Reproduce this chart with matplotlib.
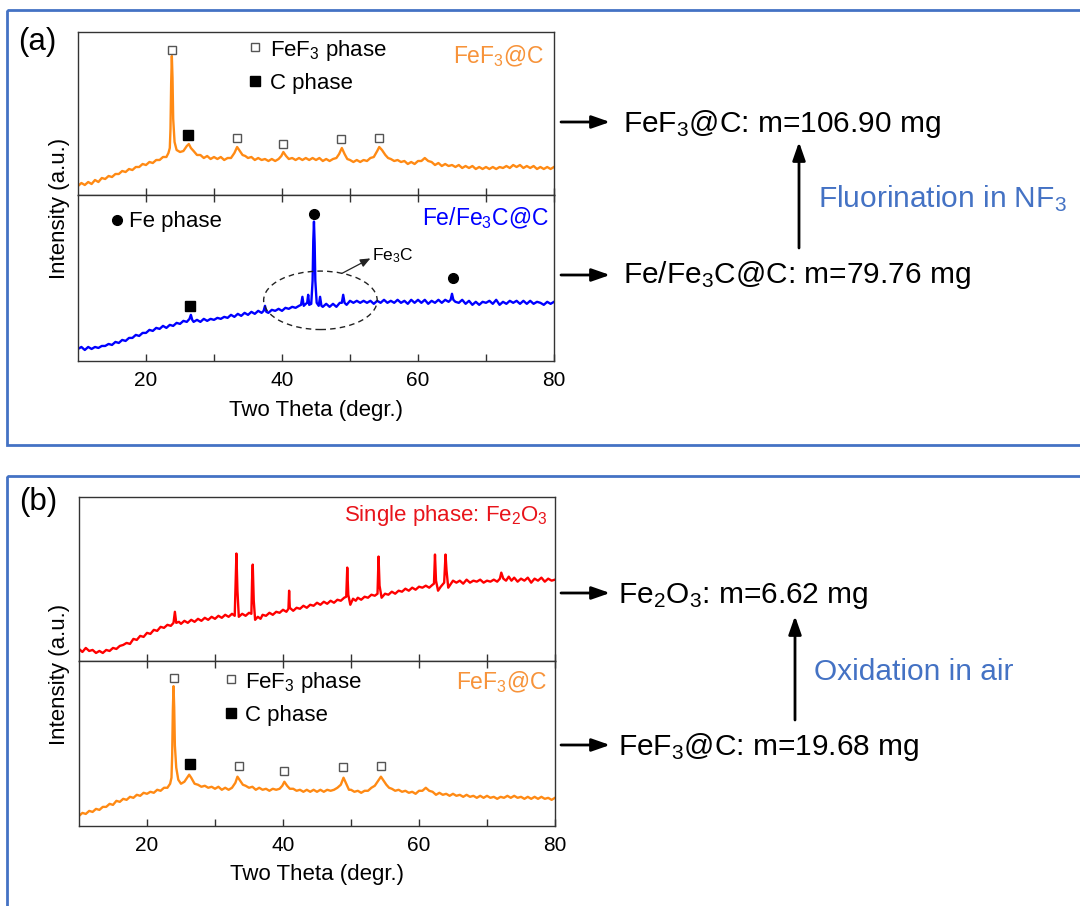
import matplotlib
matplotlib.use('Agg')
import matplotlib.pyplot as plt
from matplotlib.patches import Ellipse, Rectangle, FancyArrowPatch

plt.rcParams['font.family'] = ['Liberation Sans', 'DejaVu Sans']
plt.rcParams['mathtext.fontset'] = 'custom'
plt.rcParams['mathtext.rm'] = 'Liberation Sans'
plt.rcParams['mathtext.it'] = 'Liberation Sans:italic'

# ---------------- data (2theta in degrees, intensity in a.u.) ----------------
# Panel (a), top: FeF3@C
fef3_a_tt = [10, 10.5, 11, 11.5, 12, 12.5, 13, 13.5, 14, 14.5, 15, 15.5, 16, 16.5, 17, 17.5, 18, 18.5, 19, 19.5,
             20, 20.5, 21, 21.5, 22, 22.5, 23, 23.3, 23.5, 23.6, 23.7, 23.8, 23.9, 24.0, 24.2, 24.5, 25, 25.5, 26,
             26.3, 26.6, 27, 27.5, 28, 28.5, 29, 29.5, 30, 30.5, 31, 31.5, 32, 32.5, 33, 33.4, 33.8, 34.2, 34.6, 35,
             35.5, 36, 36.5, 37, 37.5, 38, 38.5, 39, 39.5, 39.9, 40.2, 40.6, 41, 41.5, 42, 42.5, 43, 43.5, 44, 44.5,
             45, 45.5, 46, 46.5, 47, 47.5, 48, 48.4, 48.8, 49.2, 49.6, 50, 50.5, 51, 51.5, 52, 52.5, 53, 53.5, 54,
             54.3, 54.7, 55.2, 55.6, 56, 56.5, 57, 57.5, 58, 58.5, 59, 59.5, 60, 60.5, 61, 61.5, 62, 62.5, 63, 63.5,
             64, 64.5, 65, 65.5, 66, 66.5, 67, 67.5, 68, 68.5, 69, 69.5, 70, 70.5, 71, 71.5, 72, 72.5, 73, 73.5, 74,
             74.5, 75, 75.5, 76, 76.5, 77, 77.5, 78, 78.5, 79, 79.5, 80]
fef3_a_int = [9, 12, 10, 13, 11, 15, 13, 17, 16, 19, 18, 21, 21, 24, 23, 26, 25, 28, 28, 31,
              30, 33, 32, 35, 35, 38, 38, 42, 47, 66, 112, 139, 117, 76, 53, 45, 43, 44, 49,
              51, 47, 44, 40, 40, 37, 39, 36, 38, 36, 38, 35, 37, 37, 42, 48, 44, 40, 39, 37,
              38, 35, 37, 35, 36, 34, 36, 34, 36, 39, 43, 39, 36, 37, 35, 37, 35, 37, 35, 37,
              35, 37, 34, 36, 34, 36, 37, 41, 47, 41, 36, 35, 33, 35, 33, 35, 34, 37, 38, 44,
              48, 45, 40, 37, 36, 34, 35, 33, 34, 31, 33, 31, 34, 34, 37, 34, 33, 30, 32, 29,
              31, 29, 30, 28, 30, 27, 29, 27, 29, 26, 28, 26, 28, 26, 28, 26, 28, 27, 29, 27, 30,
              28, 30, 27, 29, 27, 29, 26, 28, 26, 28, 26, 28]

# Panel (a), bottom: Fe/Fe3C@C
fe_tt = [10, 10.5, 11, 11.5, 12, 12.5, 13, 13.5, 14, 14.5, 15, 15.5, 16, 16.5, 17, 17.5, 18, 18.5, 19, 19.5,
         20, 20.5, 21, 21.5, 22, 22.5, 23, 23.5, 24, 24.5, 25, 25.5, 26, 26.4, 26.6, 26.8, 27, 27.5, 28, 28.5,
         29, 29.5, 30, 30.5, 31, 31.5, 32, 32.5, 33, 33.5, 34, 34.5, 35, 35.5, 36, 36.5, 37, 37.3, 37.5, 37.7,
         38, 38.5, 39, 39.5, 40, 40.5, 41, 41.5, 42, 42.5, 42.8, 43.0, 43.2, 43.5, 43.7, 43.85, 44.0, 44.3,
         44.5, 44.6, 44.7, 44.8, 44.9, 45.1, 45.4, 45.6, 45.8, 46, 46.5, 47, 47.5, 48, 48.5, 48.8, 49.0, 49.2,
         49.5, 50, 50.5, 51, 51.5, 52, 52.5, 53, 53.5, 54, 54.5, 55, 55.5, 56, 56.5, 57, 57.5, 58, 58.5, 59,
         59.5, 60, 60.5, 61, 61.5, 62, 62.5, 63, 63.5, 64, 64.5, 64.8, 65.0, 65.2, 65.5, 66, 66.5, 67, 67.5,
         68, 68.5, 69, 69.5, 70, 70.5, 71, 71.5, 72, 72.5, 73, 73.5, 74, 74.5, 75, 75.5, 76, 76.5, 77, 77.5,
         78, 78.5, 79, 79.5, 80]
fe_int = [12, 14, 11, 14, 12, 14, 13, 15, 15, 17, 16, 19, 18, 21, 20, 23, 23, 26, 25, 28,
          28, 31, 30, 33, 32, 35, 33, 36, 35, 38, 37, 40, 39, 42, 46, 41, 39, 41, 39, 42,
          40, 42, 41, 43, 42, 44, 43, 46, 44, 47, 45, 48, 46, 49, 47, 50, 48, 50, 55, 49,
          48, 51, 50, 52, 50, 53, 52, 54, 53, 55, 56, 64, 55, 57, 58, 66, 56, 57,
          80, 120, 139, 118, 80, 58, 55, 64, 55, 54, 57, 54, 57, 54, 58, 58, 66, 58,
          56, 60, 58, 60, 58, 60, 58, 60, 57, 60, 58, 61, 58, 60, 58, 61, 58, 60, 57, 61,
          58, 61, 58, 61, 57, 60, 58, 61, 58, 61, 59, 61, 67, 61, 59, 58, 61, 57, 60,
          56, 59, 56, 59, 58, 60, 57, 61, 56, 59, 57, 60, 58, 60, 57, 60, 57, 60, 57, 59,
          58, 56, 59, 57, 59]

# Panel (b), top: Fe2O3
fe2o3_tt = [10, 10.5, 11, 11.5, 12, 12.5, 13, 13.5, 14, 14.5, 15, 15.5, 16, 16.5, 17, 17.5, 18, 18.5, 19, 19.5,
            20, 20.5, 21, 21.5, 22, 22.5, 23, 23.5, 23.9, 24.1, 24.3, 24.7, 25, 25.5, 26, 26.5, 27, 27.5, 28,
            28.5, 29, 29.5, 30, 30.5, 31, 31.5, 32, 32.5, 32.9, 33.05, 33.15, 33.3, 33.5, 34, 34.5, 35, 35.35,
            35.45, 35.55, 35.7, 35.9, 36.3, 36.7, 37, 37.5, 38, 38.5, 39, 39.5, 40, 40.5, 40.8, 40.9, 41.0, 41.5,
            42, 42.5, 43, 43.5, 44, 44.5, 45, 45.5, 46, 46.5, 47, 47.5, 48, 48.5, 49, 49.3, 49.45, 49.6, 49.9,
            50.3, 50.7, 51, 51.5, 52, 52.5, 53, 53.5, 53.9, 54.05, 54.2, 54.5, 55, 55.5, 56, 56.5, 57, 57.5, 58,
            58.5, 59, 59.5, 60, 60.5, 61, 61.5, 62, 62.2, 62.35, 62.5, 62.8, 63.2, 63.7, 63.9, 64.05, 64.3, 64.7,
            65, 65.5, 66, 66.5, 67, 67.5, 68, 68.5, 69, 69.5, 70, 70.5, 71, 71.5, 71.9, 72.1, 72.4, 72.8, 73.2,
            73.6, 74, 74.5, 75, 75.5, 76, 76.5, 77, 77.5, 78, 78.5, 79, 79.5, 80]
fe2o3_int = [12, 9, 13, 10, 11, 8, 10, 8, 11, 10, 13, 12, 15, 16, 18, 17, 22, 21, 25, 24,
             28, 27, 31, 30, 34, 33, 36, 35, 38, 49, 38, 39, 37, 40, 38, 41, 39, 42, 40,
             43, 41, 44, 42, 45, 43, 46, 44, 47, 45, 80, 107, 70, 44, 47, 45, 48, 47,
             80, 96, 60, 41, 44, 42, 46, 45, 48, 46, 49, 48, 51, 49, 52, 70, 53, 50,
             53, 52, 55, 53, 56, 55, 58, 56, 59, 57, 60, 58, 61, 60, 63, 64, 93, 66, 56,
             62, 60, 63, 61, 64, 63, 66, 65, 67, 104, 75, 63, 67, 66, 69, 67, 70, 69, 72,
             70, 73, 71, 74, 73, 75, 73, 76, 77, 106, 80, 70, 74, 78, 106, 90, 73, 77,
             80, 78, 80, 77, 81, 78, 80, 79, 81, 78, 80, 79, 81, 79, 82, 88, 82, 80, 84,
             80, 83, 79, 82, 80, 83, 78, 82, 80, 83, 79, 82, 80, 81]

# Panel (b), bottom: FeF3@C
fef3_b_tt = [10, 10.5, 11, 11.5, 12, 12.5, 13, 13.5, 14, 14.5, 15, 15.5, 16, 16.5, 17, 17.5, 18, 18.5, 19, 19.5,
             20, 20.5, 21, 21.5, 22, 22.5, 23, 23.4, 23.6, 23.7, 23.8, 23.9, 24.0, 24.1, 24.3, 24.6, 25, 25.5, 26,
             26.2, 26.5, 27, 27.5, 28, 28.5, 29, 29.5, 30, 30.5, 31, 31.5, 32, 32.5, 33, 33.3, 33.7, 34.1, 34.5,
             35, 35.5, 36, 36.5, 37, 37.5, 38, 38.5, 39, 39.5, 39.9, 40.2, 40.6, 41, 41.5, 42, 42.5, 43, 43.5, 44,
             44.5, 45, 45.5, 46, 46.5, 47, 47.5, 48, 48.5, 48.9, 49.3, 49.7, 50, 50.5, 51, 51.5, 52, 52.5, 53, 53.5,
             54, 54.4, 54.8, 55.2, 55.6, 56, 56.5, 57, 57.5, 58, 58.5, 59, 59.5, 60, 60.5, 61, 61.5, 62, 62.5, 63,
             63.5, 64, 64.5, 65, 65.5, 66, 66.5, 67, 67.5, 68, 68.5, 69, 69.5, 70, 70.5, 71, 71.5, 72, 72.5, 73,
             73.5, 74, 74.5, 75, 75.5, 76, 76.5, 77, 77.5, 78, 78.5, 79, 79.5, 80]
fef3_b_int = [10, 13, 12, 15, 14, 17, 16, 19, 19, 22, 21, 25, 24, 27, 26, 29, 28, 31, 30, 33,
              32, 34, 33, 36, 35, 38, 38, 42, 48, 70, 115, 139, 118, 80, 58, 46, 42, 44, 49,
              51, 48, 42, 41, 39, 40, 38, 39, 37, 39, 36, 38, 36, 38, 43, 49, 45, 41, 40,
              38, 39, 36, 38, 36, 37, 35, 37, 36, 37, 40, 44, 40, 37, 37, 35, 36, 34, 36, 34,
              36, 34, 36, 34, 36, 35, 36, 38, 41, 48, 42, 36, 36, 34, 35, 33, 35, 35, 38, 40,
              45, 49, 45, 41, 38, 37, 35, 36, 34, 35, 33, 34, 32, 35, 35, 38, 35, 34, 31, 33,
              31, 32, 30, 32, 30, 31, 29, 31, 29, 30, 28, 30, 28, 30, 28, 29, 27, 29, 28, 30,
              28, 30, 28, 29, 27, 29, 27, 29, 27, 29, 27, 28, 26, 28]

# phase marker positions (2theta, intensity)
a_fef3_mk_tt = [23.8, 33.4, 40.1, 48.7, 54.2]
a_fef3_mk_int = [145, 57, 51, 56, 57]
a_c_mk = (26.2, 60)
a_fe_mk_tt = [44.7, 65.2]
a_fe_mk_int = [147, 83]
a_c2_mk = (26.4, 55)

b_fef3_mk_tt = [23.9, 33.5, 40.2, 48.8, 54.4]
b_fef3_mk_int = [147, 60, 55, 59, 60]
b_c_mk = (26.3, 62)

# ---------------- figure ----------------
W, H = 1080, 906
fig = plt.figure(figsize=(W / 100, H / 100), dpi=100)

ov = fig.add_axes([0, 0, 1, 1], zorder=-1)
ov.set_xlim(0, W)
ov.set_ylim(H, 0)
ov.axis('off')


def ax_at(x0, y0, x1, y1):
    return fig.add_axes([x0 / W, 1 - y1 / H, (x1 - x0) / W, (y1 - y0) / H])


def style(ax, top_ticks, labels):
    ax.set_xlim(10, 80)
    ax.set_yticks([])
    ax.set_xticks([20, 30, 40, 50, 60, 70, 80])
    if labels:
        ax.set_xticklabels(['20', '', '40', '', '60', '', '80'])
    else:
        ax.set_xticklabels([])
    ax.tick_params(axis='x', direction='in', length=5, width=1, color='#333333',
                   top=top_ticks, bottom=True, labelbottom=labels, labelsize=15, pad=7.5)
    for s in ax.spines.values():
        s.set_color('#333333')
        s.set_linewidth(1)


ORANGE = '#FF8A14'
ORANGE_TXT = '#F7933A'
BLUE = '#0000FF'
RED = '#FF0000'
NOTE = '#4472C4'
LW = 1.7
sub3 = r'$\mathregular{_3}$'
sub2 = r'$\mathregular{_2}$'

open_sq = dict(marker='s', ms=6, mfc='white', mec='#555555', mew=1, ls='none', zorder=5)
fill_sq = dict(marker='s', ms=6.5, mfc='black', mec='black', ls='none', zorder=5)
fill_ci = dict(marker='o', ms=7, mfc='black', mec='black', ls='none', zorder=5)


def draw_fef3(ax, tt, inten, mk_tt, mk_int, c_mk, ylim, lx, ly_top, ly_bot, lab_x, lab_y):
    ax.plot(tt, inten, color=ORANGE, lw=LW)
    ax.set_ylim(*ylim)
    ax.plot(mk_tt, mk_int, **open_sq)
    ax.plot([c_mk[0]], [c_mk[1]], **fill_sq)
    ax.plot([lx], [ly_top + 9], **open_sq)
    ax.text(lx + 2.1, ly_top, 'FeF' + sub3 + ' phase', fontsize=16, va='baseline')
    ax.plot([lx], [ly_bot + 8], **fill_sq)
    ax.text(lx + 2.1, ly_bot, 'C phase', fontsize=16, va='baseline')
    ax.text(lab_x, lab_y, 'FeF' + sub3 + '@C', fontsize=16.5, color=ORANGE_TXT, ha='right', va='baseline')


# ---- panel (a) ----
a1 = ax_at(78, 32, 554, 195)
a2 = ax_at(78, 195, 554, 361)
style(a1, False, False)
style(a2, True, True)
draw_fef3(a1, fef3_a_tt, fef3_a_int, a_fef3_mk_tt, a_fef3_mk_int, a_c_mk, (0, 163),
          36.1, 139, 106, 78.5, 132)

a2.plot(fe_tt, fe_int, color=BLUE, lw=LW)
a2.set_ylim(0, 165.5)
a2.plot(a_fe_mk_tt, a_fe_mk_int, **fill_ci)
a2.plot([a_c2_mk[0]], [a_c2_mk[1]], **fill_sq)
a2.plot([15.7], [141], **fill_ci)
a2.text(17.5, 133.5, 'Fe phase', fontsize=16, va='baseline')
a2.text(79.2, 135, 'Fe/Fe' + sub3 + 'C@C', fontsize=16.5, color=BLUE, ha='right', va='baseline')
a2.add_patch(Ellipse((45.65, 60.5), 16.7, 58.3, fill=False, ls=(0, (4, 3)), lw=1, ec='#222222', zorder=4))
a2.add_patch(FancyArrowPatch((48.8, 87.3), (53.0, 102.3), arrowstyle='-|>,head_length=0.6,head_width=0.25',
                             mutation_scale=10, color='#222222', lw=0.9, shrinkA=0, shrinkB=0, zorder=4))
a2.text(53.3, 100.7, 'Fe' + sub3 + 'C', fontsize=12.5, va='baseline')
a2.set_xlabel('Two Theta (degr.)', fontsize=16, labelpad=7)

# ---- panel (b) ----
b1 = ax_at(79, 497, 555, 661)
b2 = ax_at(79, 661, 555, 826)
style(b1, False, False)
style(b2, True, True)
b1.plot(fe2o3_tt, fe2o3_int, color=RED, lw=LW)
b1.set_ylim(0, 163.3)
b1.text(79.0, 139, 'Single phase: Fe' + sub2 + 'O' + sub3, fontsize=16, color='#E8141B',
        ha='right', va='baseline')
draw_fef3(b2, fef3_b_tt, fef3_b_int, b_fef3_mk_tt, b_fef3_mk_int, b_c_mk, (0, 164),
          32.35, 137.3, 104, 78.8, 135.7)
b2.set_xlabel('Two Theta (degr.)', fontsize=16, labelpad=6)

# y labels
ov.text(59, 208, 'Intensity (a.u.)', rotation=90, fontsize=16, ha='center', va='center')
ov.text(60, 674, 'Intensity (a.u.)', rotation=90, fontsize=16, ha='center', va='center')

# panel labels
ov.text(37, 42, '(a)', fontsize=22.5, ha='center', va='center')
ov.text(38, 502, '(b)', fontsize=22.5, ha='center', va='center')

# panel borders
ov.add_patch(Rectangle((7, 10), 1100, 435, fill=False, ec=NOTE, lw=2, clip_on=False))
ov.add_patch(Rectangle((7, 476), 1100, 500, fill=False, ec=NOTE, lw=2, clip_on=False))


def arrow(p0, p1):
    ov.add_patch(FancyArrowPatch(p0, p1, arrowstyle='-|>,head_length=1.0,head_width=0.35',
                                 mutation_scale=11, color='black', lw=2, shrinkA=0, shrinkB=0))


FS = 21.5
# right-hand annotations
arrow((561, 122), (610, 122))
arrow((561, 275), (610, 275))
arrow((799, 248), (799, 142))
ov.text(623, 132, 'FeF' + sub3 + '@C: m=106.90 mg', fontsize=FS, va='baseline')
ov.text(623, 283, 'Fe/Fe' + sub3 + 'C@C: m=79.76 mg', fontsize=FS, va='baseline')
ov.text(818, 207, 'Fluorination in NF' + sub3, fontsize=FS, color=NOTE, va='baseline')

arrow((561, 593), (610, 593))
arrow((561, 745), (610, 745))
arrow((795, 720), (795, 616))
ov.text(618, 603, 'Fe' + sub2 + 'O' + sub3 + ': m=6.62 mg', fontsize=FS, va='baseline')
ov.text(618, 755, 'FeF' + sub3 + '@C: m=19.68 mg', fontsize=FS, va='baseline')
ov.text(814, 680, 'Oxidation in air', fontsize=FS, color=NOTE, va='baseline')

fig.savefig('out.png', dpi=100)
